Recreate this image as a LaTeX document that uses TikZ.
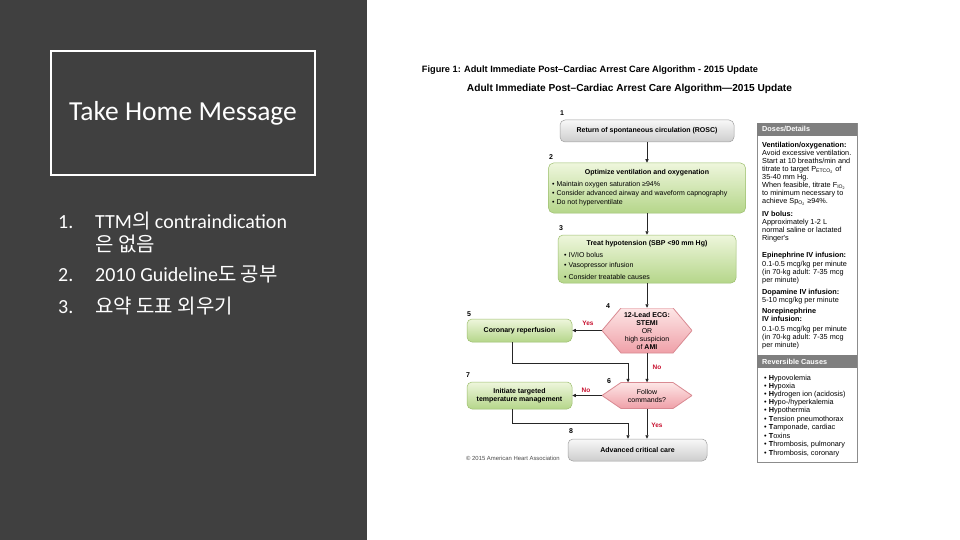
\documentclass[tikz,border=0pt]{standalone}
\usepackage{fontspec}
\setmainfont{Carlito}
\newfontfamily\kr{Noto Sans CJK KR}
\newfontfamily\ar{Liberation Sans}
\usetikzlibrary{arrows.meta,calc}
\definecolor{panel}{HTML}{404040}
\definecolor{greenT}{HTML}{EEF6DC}
\definecolor{greenB}{HTML}{B5D68A}
\definecolor{greenD}{HTML}{9DBF6E}
\definecolor{pinkT}{HTML}{FDE6E6}
\definecolor{pinkB}{HTML}{EFA0A8}
\definecolor{pinkD}{HTML}{D98A92}
\definecolor{greyT}{HTML}{F8F8F8}
\definecolor{greyB}{HTML}{CDCDCD}
\definecolor{greyD}{HTML}{A0A0A0}
\definecolor{sidehead}{HTML}{7F7F7F}
\definecolor{ynred}{HTML}{C8102E}
\tikzset{
  fig/.style={font=\ar\fontsize{7}{8.5}\selectfont, inner sep=0pt},
  figb/.style={font=\ar\bfseries\fontsize{7}{8.5}\selectfont, inner sep=0pt},
  numlab/.style={font=\ar\bfseries\fontsize{7}{8}\selectfont, inner sep=0pt},
  yn/.style={font=\ar\bfseries\fontsize{6.5}{8}\selectfont, text=ynred, inner sep=0pt},
  greenbox/.style={rounded corners=5pt, draw=greenD, line width=0.5pt, top color=greenT, bottom color=greenB, inner sep=0pt},
  greybox/.style={rounded corners=5pt, draw=greyD, line width=0.5pt, top color=greyT, bottom color=greyB, inner sep=0pt},
  hexnode/.style={minimum width=90pt, minimum height=#1, inner sep=0pt, align=center,
    font=\ar\fontsize{7}{8}\selectfont,
    path picture={
      \path[top color=pinkT, bottom color=pinkB, draw=pinkD, line width=0.8pt]
        (path picture bounding box.west)
        -- ([xshift=19pt]path picture bounding box.north west)
        -- ([xshift=-19pt]path picture bounding box.north east)
        -- (path picture bounding box.east)
        -- ([xshift=-19pt]path picture bounding box.south east)
        -- ([xshift=19pt]path picture bounding box.south west) -- cycle;}},
  arr/.style={draw=black!85, line width=0.7pt, -{Triangle[length=3.5pt,width=3.2pt]}},
  ln/.style={draw=black!85, line width=0.7pt},
  side/.style={font=\ar\fontsize{7.3}{8}\selectfont, inner sep=0pt, anchor=base west},
  sideb/.style={font=\ar\bfseries\fontsize{7.3}{8}\selectfont, inner sep=0pt, anchor=base west},
  listtxt/.style={text=white, font=\fontsize{20}{24}\selectfont, inner sep=0pt, anchor=base west}
}
\begin{document}
\begin{tikzpicture}[x=1pt,y=-1pt]
\useasboundingbox (0,0) rectangle (960,540);
\fill[white] (0,0) rectangle (960,540);
\fill[panel] (0,0) rectangle (367,540);

% left panel
\node[draw=white, line width=2.5pt, minimum width=264pt, minimum height=124pt, inner sep=0pt] (tbox) at (183,113) {};
\node[text=white, font=\fontsize{27.5}{33}\selectfont, inner sep=0pt] (title) at (183,113) {Take Home Message};
\node[listtxt] (l1n) at (58,228.5) {1.};
\node[listtxt] (l1) at (95,228.5) {TTM{\kr 의} contraindication};
\node[listtxt] (l1b) at (95,251) {\kr 은 없음};
\node[listtxt] (l2n) at (58,281.5) {2.};
\node[listtxt] (l2) at (95,281.5) {2010 Guideline{\kr 도 공부}};
\node[listtxt] (l3n) at (58,313.5) {3.};
\node[listtxt] (l3) at (95,313.5) {\kr 요약 도표 외우기};

% figure titles
\node[inner sep=0pt] (ft1) at (590,70) {\resizebox{336pt}{!}{\ar\bfseries Figure 1: Adult Immediate Post–Cardiac Arrest Care Algorithm - 2015 Update}};
\node[inner sep=0pt] (ft2) at (629.5,89) {\resizebox{325pt}{!}{\ar\bfseries Adult Immediate Post–Cardiac Arrest Care Algorithm—2015 Update}};

% flowchart boxes
\node[greybox, figb, minimum width=174pt, minimum height=22pt] (n1) at (647,131) {Return of spontaneous circulation (ROSC)};
\node[greenbox, minimum width=197pt, minimum height=50pt] (n2) at (647,188) {};
\node[figb] (n2t) at (647,172.5) {Optimize ventilation and oxygenation};
\node[fig, anchor=west] (n2a) at (552,185) {• Maintain oxygen saturation ≥94\%};
\node[fig, anchor=west] (n2b) at (552,194) {• Consider advanced airway and waveform capnography};
\node[fig, anchor=west] (n2c) at (552,203) {• Do not hyperventilate};

\node[greenbox, minimum width=178pt, minimum height=48pt] (n3) at (647,259) {};
\node[figb] (n3t) at (647,244) {Treat hypotension (SBP <90 mm Hg)};
\node[fig, anchor=west] (n3a) at (564,254.5) {• IV/IO bolus};
\node[fig, anchor=west] (n3b) at (564,265.5) {• Vasopressor infusion};
\node[fig, anchor=west] (n3c) at (564,276.5) {• Consider treatable causes};

\node[hexnode=45pt] (h4) at (647,330.5) {\textbf{12-Lead ECG:}\\\textbf{STEMI}\\OR\\high suspicion\\of \textbf{AMI}};
\node[greenbox, figb, minimum width=105pt, minimum height=23pt] (n5) at (519.5,330.5) {Coronary reperfusion};
\node[hexnode=26pt] (h6) at (647,395.5) {Follow\\commands?};
\node[greenbox, figb, minimum width=105pt, minimum height=27pt, align=center] (n7) at (519.5,395.5) {Initiate targeted\\temperature management};
\node[greybox, figb, minimum width=139pt, minimum height=22pt] (n8) at (637.5,450) {Advanced critical care};

% step numbers
\node[numlab] (k1) at (562,113) {1};
\node[numlab] (k2) at (551,157) {2};
\node[numlab] (k3) at (561,228) {3};
\node[numlab] (k4) at (608,306) {4};
\node[numlab] (k5) at (469,314) {5};
\node[numlab] (k6) at (609,381) {6};
\node[numlab] (k7) at (468,375) {7};
\node[numlab] (k8) at (571,431) {8};

% connectors
\draw[arr] (n1) -- (n2);
\draw[arr] (n2) -- (n3);
\draw[arr] (n3) -- (h4);
\draw[arr] (h4.west) -- (n5.east);
\node[yn] (yes1) at (588,323) {Yes};
\draw[arr] (h4) -- (h6);
\node[yn] (no1) at (657,367) {No};
\coordinate (j5) at (512,363);
\coordinate (j6) at (628,363);
\draw[arr] (n5.south -| j5) -- (j5) -- (j6) -- (j6 |- h6.north);
\draw[arr] (h6.west) -- (n7.east);
\node[yn] (no2) at (586,390) {No};
\coordinate (j7) at (512,423);
\coordinate (j8) at (628,423);
\draw[arr] (n7.south -| j7) -- (j7) -- (j8) -- (j8 |- n8.north);
\draw[arr] (h6.south) -- (h6.south |- n8.north);
\node[yn] (yes2) at (657,425) {Yes};
\node[font=\ar\fontsize{5.9}{7}\selectfont, text=black!70, inner sep=0pt, anchor=west] (copy) at (466,458) {© 2015 American Heart Association};

% sidebar
\draw[draw=black!45, line width=0.7pt] (757,123) rectangle (857,462);
\fill[sidehead] (757,123) rectangle (857,136);
\fill[sidehead] (757,355) rectangle (857,368);
\node[sideb, text=white] (s0) at (762,131.5) {Doses/Details};
\node[sideb] (s1) at (762,147.5) {Ventilation/oxygenation:};
\node[side] (s2) at (762,155.5) {Avoid excessive ventilation.};
\node[side] (s3) at (762,163.5) {Start at 10 breaths/min and};
\node[side] (s4) at (762,171.5) {titrate to target P\textsubscript{ETCO\textsubscript{2}} of};
\node[side] (s5) at (762,179.5) {35-40 mm Hg.};
\node[side] (s6) at (762,187.5) {When feasible, titrate F\textsubscript{IO\textsubscript{2}}};
\node[side] (s7) at (762,195.5) {to minimum necessary to};
\node[side] (s8) at (762,203.5) {achieve Sp\textsubscript{O\textsubscript{2}} ≥94\%.};
\node[sideb] (s9) at (762,216.5) {IV bolus:};
\node[side] (s10) at (762,224.5) {Approximately 1-2 L};
\node[side] (s11) at (762,232.5) {normal saline or lactated};
\node[side] (s12) at (762,240.5) {Ringer's};
\node[sideb] (s13) at (762,257.5) {Epinephrine IV infusion:};
\node[side] (s14) at (762,266) {0.1-0.5 mcg/kg per minute};
\node[side] (s15) at (762,274.5) {(in 70-kg adult: 7-35 mcg};
\node[side] (s16) at (762,282.5) {per minute)};
\node[sideb] (s17) at (762,294.5) {Dopamine IV infusion:};
\node[side] (s18) at (762,302.5) {5-10 mcg/kg per minute};
\node[sideb] (s19) at (762,313.5) {Norepinephrine};
\node[sideb] (s20) at (762,321.5) {IV infusion:};
\node[side] (s21) at (762,331) {0.1-0.5 mcg/kg per minute};
\node[side] (s22) at (762,339.5) {(in 70-kg adult: 7-35 mcg};
\node[side] (s23) at (762,347.5) {per minute)};
\node[sideb, text=white] (r0) at (762,364) {Reversible Causes};
\node[side] (r1) at (764,380.5) {• \textbf{H}ypovolemia};
\node[side] (r2) at (764,388.5) {• \textbf{H}ypoxia};
\node[side] (r3) at (764,396.5) {• \textbf{H}ydrogen ion (acidosis)};
\node[side] (r4) at (764,404.5) {• \textbf{H}ypo-/hyperkalemia};
\node[side] (r5) at (764,412.5) {• \textbf{H}ypothermia};
\node[side] (r6) at (764,421) {• \textbf{T}ension pneumothorax};
\node[side] (r7) at (764,429.5) {• \textbf{T}amponade, cardiac};
\node[side] (r8) at (764,438) {• \textbf{T}oxins};
\node[side] (r9) at (764,446.5) {• \textbf{T}hrombosis, pulmonary};
\node[side] (r10) at (764,455) {• \textbf{T}hrombosis, coronary};
\end{tikzpicture}
\end{document}
